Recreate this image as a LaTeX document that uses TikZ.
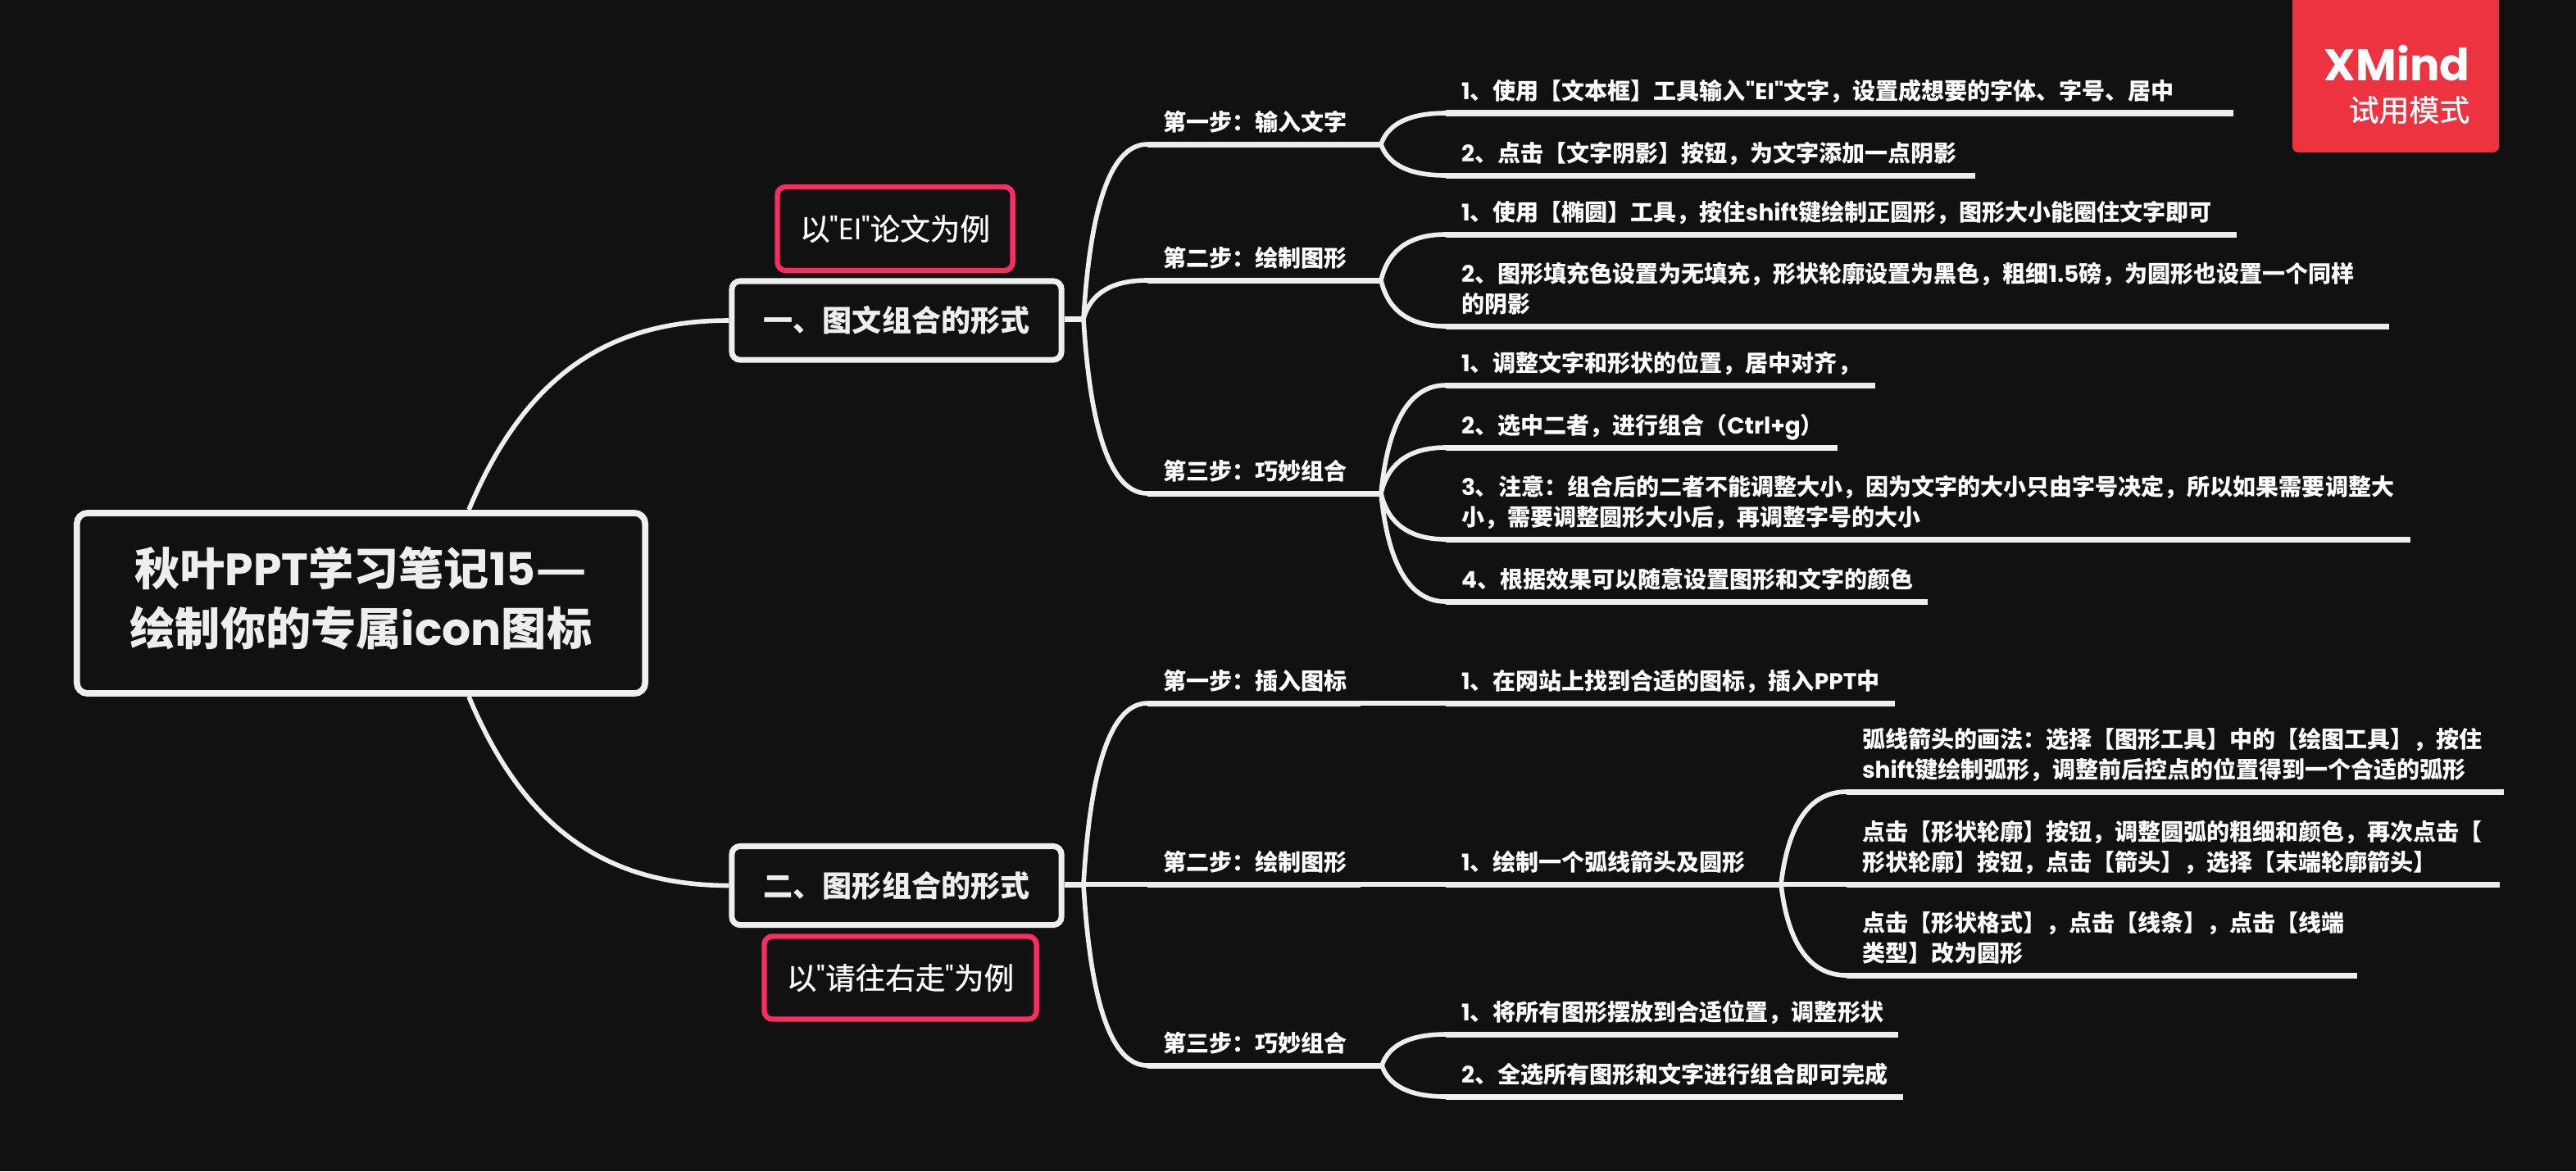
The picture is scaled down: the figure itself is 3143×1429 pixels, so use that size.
\documentclass[tikz,border=0pt]{standalone}
\usepackage{fontspec}
\setmainfont{Noto Sans CJK SC}
\newfontfamily\latfont{Poppins}
\newfontfamily\notefont{Noto Sans CJK SC}[FakeBold=0.7]
\usetikzlibrary{calc}
\definecolor{bgdark}{HTML}{111111}
\definecolor{wire}{HTML}{EEEEEE}
\definecolor{notepink}{HTML}{F92D62}
\definecolor{markred}{HTML}{EE3340}
\newcommand{\lat}[1]{{\latfont #1}}
\tikzset{
	wirethin/.style={wire, line width=1.6pt},
	wirethick/.style={wire, line width=2pt},
	rootbox/.style={draw=wire, fill=bgdark, line width=2.2pt, rounded corners=1.3mm, text=wire, align=center, text depth=5pt, font=\fontsize{15.7}{20.6}\selectfont\bfseries, minimum width=6.93cm, minimum height=2.2cm},
	mainbox/.style={draw=wire, fill=bgdark, line width=2pt, rounded corners=1mm, text=wire, font=\fontsize{10.24}{13}\selectfont\bfseries, minimum width=4.02cm, minimum height=0.96cm},
	notebox/.style={draw=notepink, fill=bgdark, line width=1.8pt, rounded corners=1mm, text=white, font=\notefont\fontsize{10.4}{13}\selectfont},
	stemtext/.style={anchor=south west, inner sep=0pt, outer sep=0pt, text=white, align=left, text depth=1.2pt, font=\fontsize{7.97}{10.4}\selectfont\bfseries},
}
% curve from a fork to the start of a rule
\def\forkline#1#2{\draw[wirethin] let \p1=(#1),\p2=(#2) in (\p1) .. controls ({\x1+.11*(\x2-\x1)},{\y1+.67*(\y2-\y1)}) and ({\x2-.55*(\x2-\x1)},\y2) .. (\p2);}
% name, fork, rule start x, rule end x, rule y, text
\newcommand{\topicline}[6]{
	\coordinate (#1s) at (#3,#5);
	\coordinate (#1e) at (#4,#5);
	\node[stemtext] (#1) at ({#3+19},{#5-12.5}) {#6};
	\forkline{#2}{#1s}
	\draw[wirethick] (#1s) -- (#1e);
}
\begin{document}
\begin{tikzpicture}[x=0.01cm,y=-0.01cm]
	\useasboundingbox (0,0) rectangle (3143,1429);
	\fill[bgdark] (0,0) rectangle (3143,1429);
	%%%%% CENTRE %%%%%
	\node[rootbox] (root) at (440.5,736) {秋叶\lat{PPT}学习笔记\lat{15}\scalebox{1.25}[1]{—}\\绘制你的专属\lat{icon}图标};
	\node[mainbox] (mainA) at (1094,391) {一、图文组合的形式\hspace{0.06cm}};
	\node[mainbox] (mainB) at (1094,1080.5) {二、图形组合的形式\hspace{0.06cm}};
	\node[notebox, minimum width=2.87cm, minimum height=1.02cm] (noteA) at (1092,279) {以\lat{"EI"}论文为例};
	\node[notebox, minimum width=3.32cm, minimum height=1.01cm] (noteB) at (1098.5,1193) {以\lat{"}请往右走\lat{"}为例};
	\coordinate (rootT) at (572,622);
	\coordinate (rootB) at (572,850);
	\coordinate (forkA) at (1322,389);
	\coordinate (forkB) at (1322,1079);
	\draw[wirethin] (rootT) .. controls (640,460) and (740,391) .. (mainA.west);
	\draw[wirethin] (rootB) .. controls (640,1012) and (740,1080) .. (mainB.west);
	\draw[wirethick] (mainA.east |- forkA) -- (forkA);
	\draw[wirethick] (mainB.east |- forkB) -- (forkB);
	%%%%% UPPER BRANCH %%%%%
	\topicline{stepA}{forkA}{1400}{1685}{176}{第一步：输入文字}
	\topicline{leafAa}{stepAe}{1764}{2725}{138}{\lat{1}、使用【文本框】工具输入\lat{"EI"}文字，设置成想要的字体、字号、居中}
	\topicline{leafAb}{stepAe}{1764}{2410}{214}{\lat{2}、点击【文字阴影】按钮，为文字添加一点阴影}
	\topicline{stepB}{forkA}{1400}{1685}{342}{第二步：绘制图形}
	\topicline{leafBa}{stepBe}{1764}{2729}{286}{\lat{1}、使用【椭圆】工具，按住\lat{shift}键绘制正圆形，图形大小能圈住文字即可}
	\topicline{leafBb}{stepBe}{1764}{2915}{398}{\lat{2}、图形填充色设置为无填充，形状轮廓设置为黑色，粗细\lat{1.5}磅，为圆形也设置一个同样\\的阴影}
	\topicline{stepC}{forkA}{1400}{1685}{602}{第三步：巧妙组合}
	\topicline{leafCa}{stepCe}{1764}{2288}{470}{\lat{1}、调整文字和形状的位置，居中对齐，}
	\topicline{leafCb}{stepCe}{1764}{2242}{546}{\lat{2}、选中二者，进行组合（\lat{Ctrl+g}）}
	\topicline{leafCc}{stepCe}{1764}{2941}{658}{\lat{3}、注意：组合后的二者不能调整大小，因为文字的大小只由字号决定，所以如果需要调整大\\小，需要调整圆形大小后，再调整字号的大小}
	\topicline{leafCd}{stepCe}{1764}{2352}{734}{\lat{4}、根据效果可以随意设置图形和文字的颜色}
	%%%%% LOWER BRANCH %%%%%
	\topicline{stepD}{forkB}{1400}{1660}{858}{第一步：插入图标}
	\topicline{leafDa}{stepDe}{1764}{2312}{858}{\lat{1}、在网站上找到合适的图标，插入\lat{PPT}中}
	\topicline{stepE}{forkB}{1400}{1660}{1079}{第二步：绘制图形}
	\topicline{leafEa}{stepEe}{1764}{2173}{1079}{\lat{1}、绘制一个弧线箭头及圆形}
	\topicline{subEa}{leafEae}{2253}{3055}{966}{弧线箭头的画法：选择【图形工具】中的【绘图工具】，按住\\\lat{shift}键绘制弧形，调整前后控点的位置得到一个合适的弧形}
	\topicline{subEb}{leafEae}{2253}{3050}{1079}{点击【形状轮廓】按钮，调整圆弧的粗细和颜色，再次点击【\\形状轮廓】按钮，点击【箭头】，选择【末端轮廓箭头】}
	\topicline{subEc}{leafEae}{2253}{2876}{1190}{点击【形状格式】，点击【线条】，点击【线端\\类型】改为圆形}
	\topicline{stepF}{forkB}{1400}{1686}{1300}{第三步：巧妙组合}
	\topicline{leafFa}{stepFe}{1764}{2316}{1262}{\lat{1}、将所有图形摆放到合适位置，调整形状}
	\topicline{leafFb}{stepFe}{1764}{2322}{1338}{\lat{2}、全选所有图形和文字进行组合即可完成}
	%%%%% TRIAL MARK %%%%%
	\node[fill=markred, rounded corners=2pt, minimum width=2.52cm, minimum height=1.95cm, anchor=north, inner sep=0pt] (mark) at (2923,-10) {};
	\node[anchor=base east, inner sep=0pt, text=white, font=\latfont\bfseries\fontsize{15.4}{20}\selectfont] (markA) at (3014,98) {XMind};
	\node[anchor=base east, inner sep=0pt, text=white, font=\notefont\fontsize{10.5}{13}\selectfont] (markB) at (3014,148) {试用模式};
\end{tikzpicture}
\end{document}
